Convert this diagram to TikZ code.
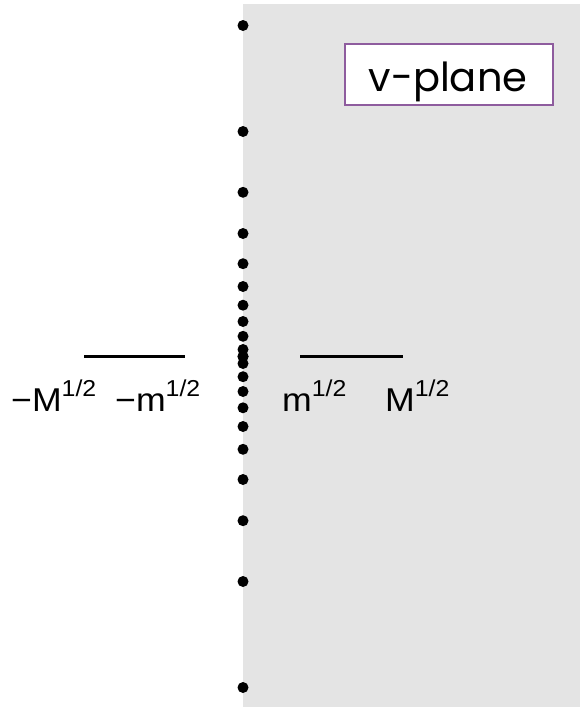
\documentclass[tikz,border=0pt]{standalone}
\usepackage{fontspec}
\setmainfont{Liberation Sans}
\newfontfamily\boxfont{Poppins}
\definecolor{planegray}{RGB}{228,228,228}
\definecolor{boxpurple}{RGB}{142,92,158}
\newcommand\halfpow[1]{#1\raisebox{15pt}{\fontsize{23}{23}\selectfont 1/2}}
\tikzset{
  dot/.style={circle,fill=black,inner sep=0pt,minimum size=11pt},
  bar/.style={line width=3.6pt},
  lbl/.style={anchor=base west,inner sep=0pt,font=\fontsize{33}{33}\selectfont,xscale=1.08},
  titlebox/.style={draw=boxpurple,line width=2pt,fill=white,minimum width=208pt,minimum height=61pt,inner sep=0pt},
  titletext/.style={anchor=base,inner sep=0pt,font=\boxfont\fontsize{40}{40}\selectfont,xscale=1.0}
}
\begin{document}
\begin{tikzpicture}[x=1pt,y=-1pt]
\useasboundingbox (0,0) rectangle (580,707);
\fill[planegray] (243,4) rectangle (580,707);
\foreach \d [count=\i] in {0,7,20.2,35,51.3,70,92.8,123,164.2,225,331}{
  \node[dot] (up\i) at (243,356.5-\d) {};
  \node[dot] (dn\i) at (243,356.5+\d) {};
}
\coordinate (la) at (84,356.5);
\coordinate (lb) at (185,356.5);
\coordinate (ra) at (300,356.5);
\coordinate (rb) at (403,356.5);
\draw[bar] (la) -- (lb);
\draw[bar] (ra) -- (rb);
\node[lbl] (lM) at (11,411.7) {\halfpow{−M}};
\node[lbl] (lm) at (115,411.7) {\halfpow{−m}};
\node[lbl] (rm) at (282,411.7) {\halfpow{m}};
\node[lbl] (rM) at (385,411.7) {\halfpow{M}};
\node[titlebox] (title) at (448.5,74.8) {};
\node[titletext] (titlelbl) at (448,91.7) {v-plane};
\end{tikzpicture}
\end{document}
